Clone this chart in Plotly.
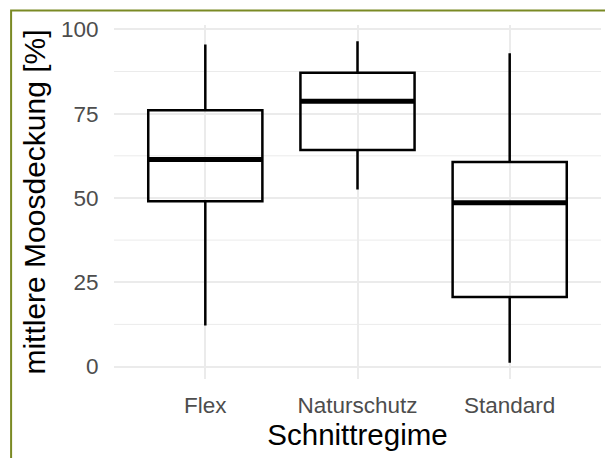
import plotly.graph_objects as go

# Summary statistics of moss cover per mowing regime
categories = ["Flex", "Naturschutz", "Standard"]
lower_whisker = [12.2, 52.5, 1.1]
q1 = [49.0, 64.2, 20.6]
median = [61.4, 78.7, 48.6]
q3 = [76.0, 87.1, 60.7]
upper_whisker = [95.5, 96.5, 92.9]

y_ticks = [0, 25, 50, 75, 100]

BOX_WIDTH = 0.75
FONT = "Liberation Sans, Arial, sans-serif"
positions = list(range(len(categories)))

fig = go.Figure()

fig.add_trace(go.Box(
    x=positions,
    q1=q1,
    median=median,
    q3=q3,
    lowerfence=lower_whisker,
    upperfence=upper_whisker,
    width=BOX_WIDTH,
    whiskerwidth=0,
    fillcolor="rgba(0,0,0,0)",
    line=dict(color="black", width=2.5),
    boxpoints=False,
    hoverinfo="skip",
    showlegend=False,
))

# thicker median bars, as in ggplot's geom_boxplot
mx, my = [], []
for p, m in zip(positions, median):
    mx += [p - BOX_WIDTH / 2, p + BOX_WIDTH / 2, None]
    my += [m, m, None]
fig.add_trace(go.Scatter(
    x=mx, y=my, mode="lines",
    line=dict(color="black", width=5),
    hoverinfo="skip", showlegend=False,
))

# minor horizontal grid lines between the major ticks
minor = [(a + b) / 2 for a, b in zip(y_ticks[:-1], y_ticks[1:])]
for v in minor:
    fig.add_shape(type="line", xref="paper", yref="y", x0=0, x1=1, y0=v, y1=v,
                  line=dict(color="#EBEBEB", width=1), layer="below")

# outer frame
fig.add_shape(type="rect", xref="paper", yref="paper",
              x0=-0.2113, x1=1.05, y0=-0.27, y1=1.0407,
              line=dict(color="#7a8a24", width=2), layer="above")

fig.update_layout(
    width=605, height=458,
    margin=dict(l=114, r=3.5, t=25.4, b=78.5, autoexpand=False),
    paper_bgcolor="white",
    plot_bgcolor="white",
    font=dict(family=FONT, color="black"),
    xaxis=dict(
        range=[-0.6, 2.6],
        tickmode="array",
        tickvals=positions,
        ticktext=categories,
        showgrid=True,
        gridcolor="#EBEBEB",
        gridwidth=2,
        zeroline=False,
        showline=False,
        ticks="outside", ticklen=6, tickcolor="rgba(0,0,0,0)",
        tickfont=dict(size=22.5, color="#4D4D4D", family=FONT),
        title=dict(text="Schnittregime", font=dict(size=29.5, color="black", family=FONT), standoff=4),
        automargin=False,
    ),
    yaxis=dict(
        range=[-3.7, 101.3],
        tickmode="array",
        tickvals=y_ticks,
        showgrid=True,
        gridcolor="#EBEBEB",
        gridwidth=2,
        zeroline=False,
        showline=False,
        ticks="outside", ticklen=10, tickcolor="rgba(0,0,0,0)",
        tickfont=dict(size=22.5, color="#4D4D4D", family=FONT),
        title=dict(text="mittlere Moosdeckung [%]", font=dict(size=30, color="black", family=FONT), standoff=6),
        automargin=False,
    ),
)

fig.write_html("out.html")
